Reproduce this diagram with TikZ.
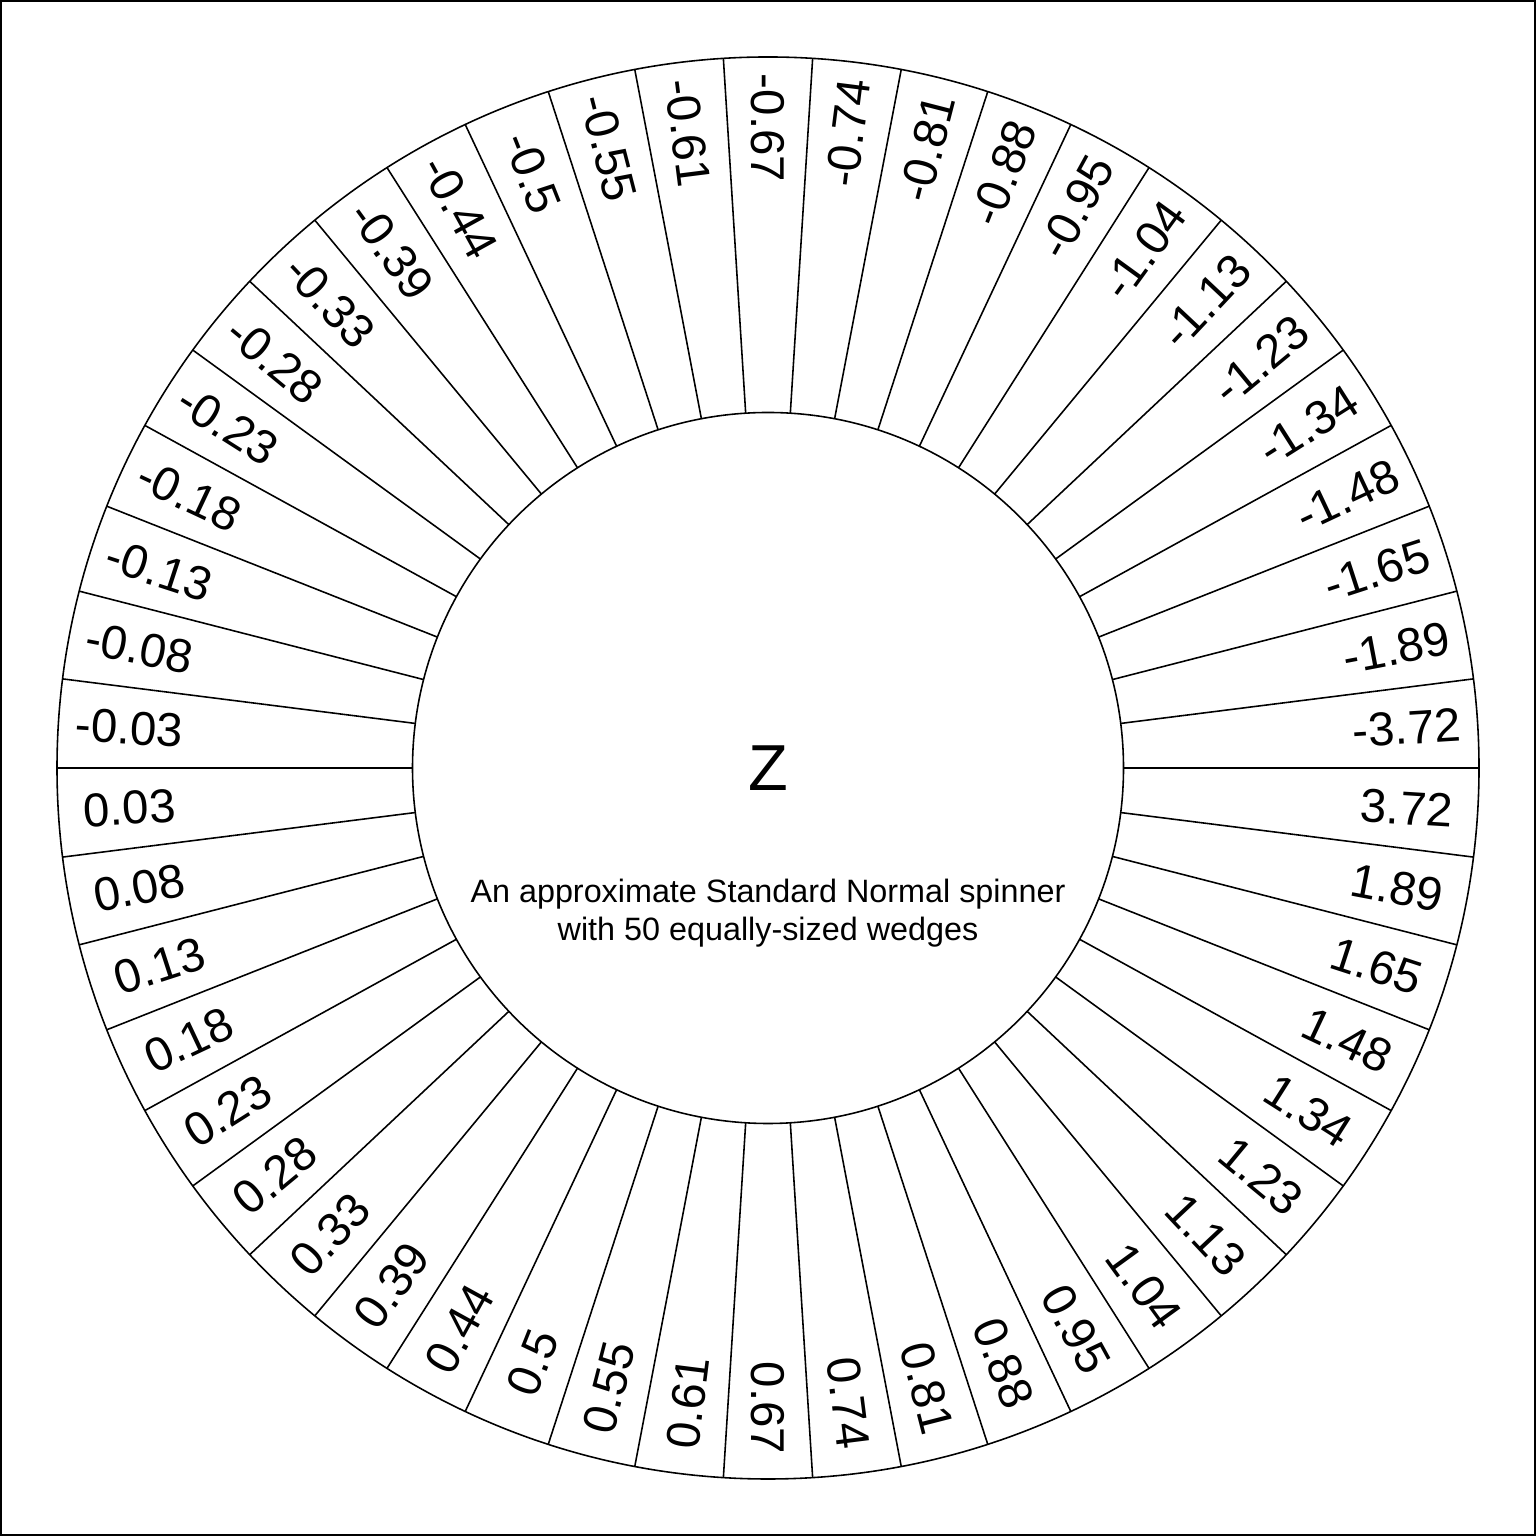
\documentclass[tikz,border=0pt]{standalone}
\usepackage{fontspec}
\setmainfont{Liberation Sans}
\usetikzlibrary{calc}

\begin{document}
\begin{tikzpicture}[
    line/.style={draw=black, line width=0.45pt},
    wedgelabel/.style={font=\fontsize{13.5}{16}\selectfont, inner sep=0pt, anchor=center},
    bigletter/.style={font=\fontsize{18.5}{22}\selectfont, inner sep=0pt},
    caption/.style={font=\fontsize{9.2}{11}\selectfont, inner sep=0pt, anchor=base}
]
\useasboundingbox (0,0) rectangle (15.36,15.36);
\draw[line] (0.01,0.01) rectangle (15.35,15.35);

\coordinate (center) at (7.68,7.68);
\draw[line] (center) circle[radius=7.11];
\draw[line] (center) circle[radius=3.555];

% 50 wedges, counter-clockwise from the right
\foreach \v [count=\k from 0] in {-3.72,-1.89,-1.65,-1.48,-1.34,-1.23,-1.13,-1.04,-0.95,-0.88,
    -0.81,-0.74,-0.67,-0.61,-0.55,-0.5,-0.44,-0.39,-0.33,-0.28,-0.23,-0.18,-0.13,-0.08,-0.03,
    0.03,0.08,0.13,0.18,0.23,0.28,0.33,0.39,0.44,0.5,0.55,0.61,0.67,0.74,0.81,0.88,0.95,
    1.04,1.13,1.23,1.34,1.48,1.65,1.89,3.72}{
    \pgfmathsetmacro{\a}{3.6+7.2*\k}
    \pgfmathsetmacro{\rot}{\k<12 ? \a : (\k<37 ? \a-180 : \a-360)}
    \draw[line] ($(center)+(\a-3.6:3.555)$) -- ($(center)+(\a-3.6:7.11)$);
    \node[wedgelabel, rotate=\rot] (w\k) at ($(center)+(\a:6.4)$) {\v};
}

\node[bigletter] (zlabel) at (center) {Z};
\node[caption] (cap1) at (7.68,6.33) {An approximate Standard Normal spinner};
\node[caption] (cap2) at (7.68,5.95) {with 50 equally-sized wedges};

\end{tikzpicture}
\end{document}
